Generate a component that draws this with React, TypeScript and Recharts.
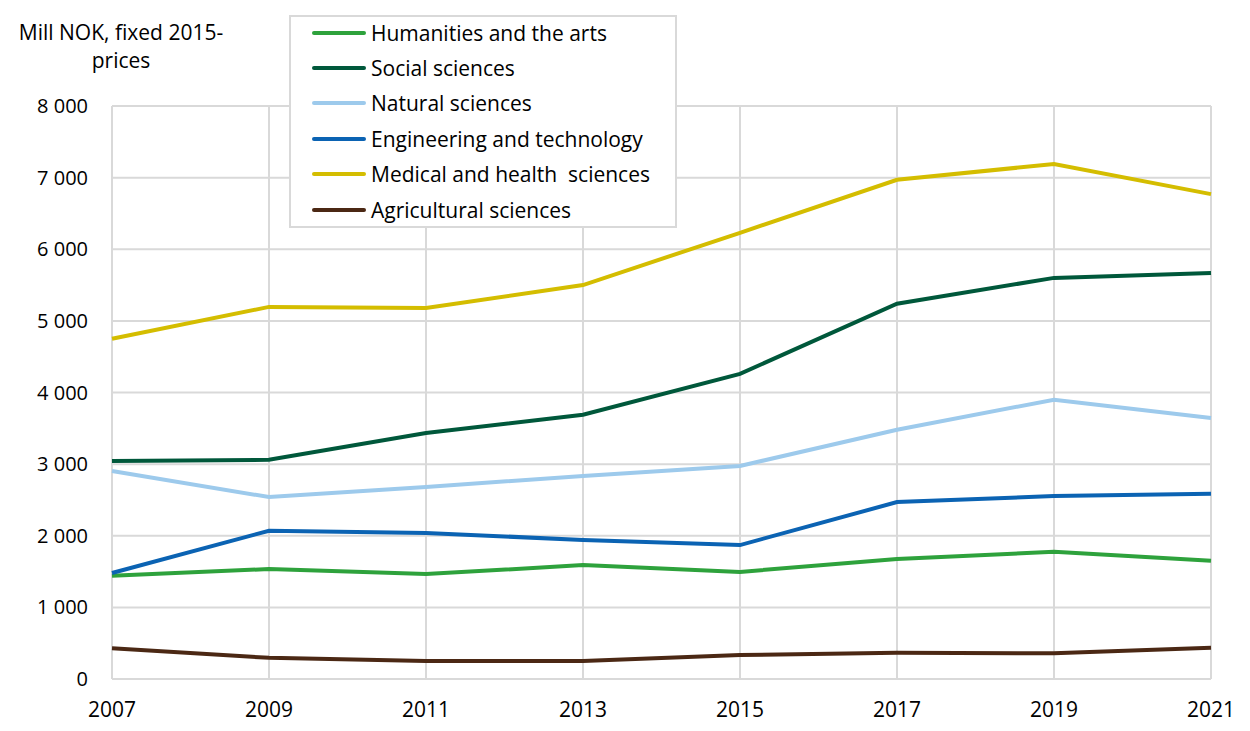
import { LineChart, Line, XAxis, YAxis, CartesianGrid } from "recharts";

const FONT = "'Open Sans', sans-serif";
const GRID = "#d9d9d9";

const years = ["2007", "2009", "2011", "2013", "2015", "2017", "2019", "2021"];
const humanities = [1440, 1535, 1465, 1590, 1495, 1675, 1775, 1650];
const social = [3045, 3060, 3435, 3690, 4260, 5240, 5600, 5670];
const natural = [2905, 2540, 2680, 2835, 2975, 3480, 3900, 3645];
const engineering = [1480, 2070, 2040, 1940, 1870, 2470, 2555, 2585];
const medical = [4750, 5195, 5180, 5500, 6230, 6970, 7190, 6770];
const agricultural = [430, 295, 250, 250, 335, 365, 360, 435];
const yTicks = [0, 1000, 2000, 3000, 4000, 5000, 6000, 7000, 8000];

const series = [
  { key: "hum", name: "Humanities and the arts", color: "#2ea23c", values: humanities },
  { key: "soc", name: "Social sciences", color: "#00583b", values: social },
  { key: "nat", name: "Natural sciences", color: "#9dcaec", values: natural },
  { key: "eng", name: "Engineering and technology", color: "#0b63b3", values: engineering },
  { key: "med", name: "Medical and health\u00a0 sciences", color: "#d4bd00", values: medical },
  { key: "agr", name: "Agricultural sciences", color: "#4b2814", values: agricultural },
];

const data = years.map((year, i) => {
  const row: Record<string, string | number> = { year };
  series.forEach((s) => (row[s.key] = s.values[i]));
  return row;
});

const fmt = (v: number) => (v >= 1000 ? `${Math.floor(v / 1000)} ${String(v % 1000).padStart(3, "0")}` : String(v));

// legend drawn as an overlay so it does not take space from the plot
function LegendBox() {
  return (
    <div
      style={{
        position: "absolute",
        left: 289,
        top: 15,
        width: 388,
        height: 213,
        border: `2px solid ${GRID}`,
        background: "#fff",
        boxSizing: "border-box",
        fontFamily: FONT,
        fontSize: 21,
        color: "#000",
        zIndex: 2,
      }}
    >
      <div style={{ position: "relative", top: -2 }}>
        {series.map((s) => (
          <div key={s.key} style={{ display: "flex", alignItems: "center", height: 35.4 }}>
            <div style={{ marginLeft: 21, width: 54, height: 4, borderRadius: 2, background: s.color }} />
            <span style={{ marginLeft: 5, whiteSpace: "pre" }}>{s.name}</span>
          </div>
        ))}
      </div>
    </div>
  );
}

export default function App() {
  return (
    <div style={{ position: "absolute", left: 0, top: 0, width: 1250, height: 731, background: "#fff" }}>
      <div
        style={{
          position: "absolute",
          left: 0,
          top: 18,
          width: 242,
          textAlign: "center",
          fontFamily: FONT,
          fontSize: 21,
          lineHeight: "28px",
          color: "#000",
          zIndex: 2,
        }}
      >
        Mill NOK, fixed 2015-
        <br />
        prices
      </div>
      <LegendBox />
      <LineChart width={1250} height={731} data={data} margin={{ top: 106, right: 39, left: 0, bottom: 0 }}>
        <CartesianGrid stroke={GRID} strokeWidth={2} />
        <XAxis
          dataKey="year"
          height={52}
          tickLine={false}
          axisLine={false}
          tickMargin={17}
          tick={{ fontFamily: FONT, fontSize: 21, fill: "#000" }}
          interval={0}
        />
        <YAxis
          width={112}
          domain={[0, 8000]}
          ticks={yTicks}
          tickFormatter={fmt}
          tickLine={false}
          axisLine={false}
          tickMargin={18}
          tick={{ fontFamily: FONT, fontSize: 20, fill: "#000" }}
        />
        {series.map((s) => (
          <Line
            key={s.key}
            dataKey={s.key}
            name={s.name}
            type="linear"
            stroke={s.color}
            strokeWidth={4}
            dot={false}
            activeDot={false}
            isAnimationActive={false}
          />
        ))}
      </LineChart>
    </div>
  );
}
